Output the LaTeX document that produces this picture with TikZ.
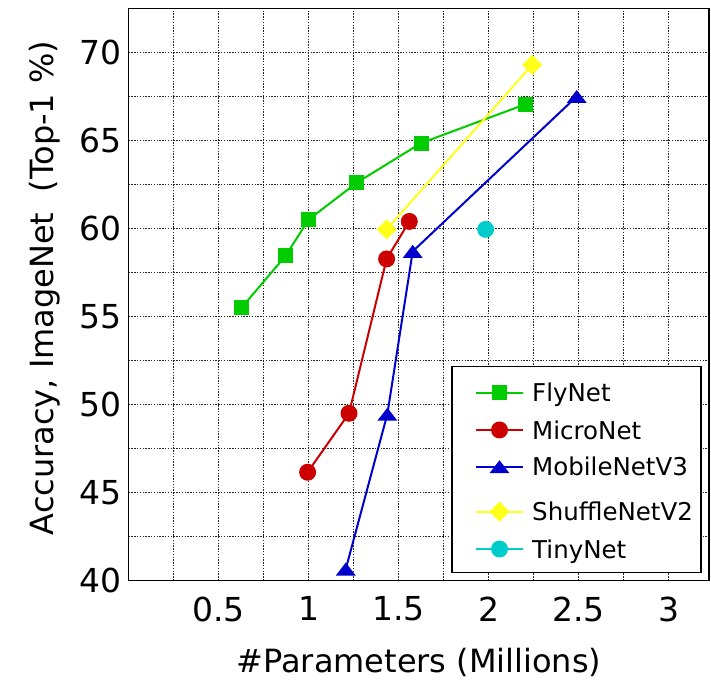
\documentclass[tikz,border=0pt]{standalone}
\usepackage{fontspec}
\setmainfont{DejaVu Sans}
\usetikzlibrary{shapes.geometric}

\definecolor{flyc}{HTML}{00CC00}
\definecolor{microc}{HTML}{CC0000}
\definecolor{mobilec}{HTML}{0000CC}
\definecolor{shufflec}{HTML}{FFFF1A}
\definecolor{tinyc}{HTML}{00CCCC}

\tikzset{
  gridline/.style={black!85, line width=0.9pt, dash pattern=on 1.4pt off 1.4pt},
  frame/.style={black, line width=1.4pt},
  series/.style={line width=2pt, line join=round},
  sqmark/.style={rectangle, fill=#1, minimum size=15pt, inner sep=0pt, outer sep=0pt},
  dotmark/.style={circle, fill=#1, minimum size=17pt, inner sep=0pt, outer sep=0pt},
  dmdmark/.style={diamond, fill=#1, minimum width=20pt, minimum height=20pt, aspect=1, inner sep=0pt, outer sep=0pt},
  ticklab/.style={inner sep=0pt, font=\fontsize{33}{36}\selectfont},
  axlab/.style={inner sep=0pt, font=\fontsize{32}{36}\selectfont},
  leglab/.style={inner sep=0pt, anchor=base west, font=\fontsize{24.5}{28}\selectfont},
  legbox/.style={draw=black, fill=white, line width=1.4pt}
}

% triangle marker, 20pt wide and 13pt tall, centred on a coordinate
\newcommand{\trimark}[2]{\fill[#1] (#2) ++(-10pt,-6.5pt) -- ++(20pt,0pt) -- ++(-10pt,13pt) -- cycle;}

\begin{document}
\begin{tikzpicture}[x=1pt,y=1pt]
\useasboundingbox (0,0) rectangle (711,682);

% data coordinates: x in millions of parameters, y in top-1 accuracy
\begin{scope}[shift={(128.5pt,-602.5pt)}, x=180pt, y=17.6pt]

  % grid
  \foreach \gx in {0.25,0.5,...,3.01}
    \draw[gridline] (\gx,40) -- (\gx,72.5);
  \foreach \gy in {42.5,45,...,70.1}
    \draw[gridline] (0,\gy) -- (3.225,\gy);

  % tick labels
  \foreach \gy in {40,45,...,70}
    \node[ticklab, anchor=east] (ylab\gy) at (-0.04,\gy) {\gy};
  \foreach \gx/\gt in {0.5/0.5,1/1,1.5/1.5,2/2,2.5/2.5,3/3}
    \node[ticklab, anchor=north] (xlab\gt) at (\gx,39.1) {\gt};

  % data points
  \coordinate (fly1) at (0.628,55.5);
  \coordinate (fly2) at (0.873,58.45);
  \coordinate (fly3) at (1.0,60.5);
  \coordinate (fly4) at (1.268,62.6);
  \coordinate (fly5) at (1.625,64.85);
  \coordinate (fly6) at (2.208,67.07);

  \coordinate (mic1) at (0.995,46.15);
  \coordinate (mic2) at (1.225,49.5);
  \coordinate (mic3) at (1.434,58.27);
  \coordinate (mic4) at (1.56,60.4);

  \coordinate (mob1) at (1.207,40.65);
  \coordinate (mob2) at (1.438,49.45);
  \coordinate (mob3) at (1.579,58.7);
  \coordinate (mob4) at (2.49,67.5);

  \coordinate (shu1) at (1.434,59.95);
  \coordinate (shu2) at (2.243,69.3);

  \coordinate (tin1) at (1.984,59.95);

  % FlyNet
  \draw[series, flyc] (fly1) -- (fly2) -- (fly3) -- (fly4) -- (fly5) -- (fly6);
  \foreach \i in {1,...,6}
    \node[sqmark=flyc] (flym\i) at (fly\i) {};

  % MicroNet
  \draw[series, microc] (mic1) -- (mic2) -- (mic3) -- (mic4);
  \foreach \i in {1,...,4}
    \node[dotmark=microc] (micm\i) at (mic\i) {};

  % MobileNetV3
  \draw[series, mobilec] (mob1) -- (mob2) -- (mob3) -- (mob4);
  \foreach \i in {1,...,4}
    {\trimark{mobilec}{mob\i}}

  % ShuffleNetV2
  \draw[series, shufflec] (shu1) -- (shu2);
  \foreach \i in {1,2}
    \node[dmdmark=shufflec] (shum\i) at (shu\i) {};

  % TinyNet
  \node[dotmark=tinyc] (tinm1) at (tin1) {};

  % axes frame
  \draw[frame] (0,40) rectangle (3.225,72.5);
\end{scope}

% axis titles
\node[axlab, anchor=base] (xtitle) at (419,10) {\#Parameters (Millions)};
\node[axlab, anchor=base, rotate=90] (ytitle) at (53,394) {Accuracy, ImageNet\ \ (Top-1 \%)};

% legend
\draw[legbox] (452,109.7) rectangle (701,315.3);

\coordinate (la1) at (476,289.3);  \coordinate (lb1) at (523,289.3);
\coordinate (la2) at (476,252.0);  \coordinate (lb2) at (523,252.0);
\coordinate (la3) at (476,215.3);  \coordinate (lb3) at (523,215.3);
\coordinate (la4) at (476,170.3);  \coordinate (lb4) at (523,170.3);
\coordinate (la5) at (476,133.0);  \coordinate (lb5) at (523,133.0);

\draw[series, flyc] (la1) -- (lb1);
\node[sqmark=flyc] (legm1) at (499.5,289.3) {};
\draw[series, microc] (la2) -- (lb2);
\node[dotmark=microc] (legm2) at (499.5,252.0) {};
\draw[series, mobilec] (la3) -- (lb3);
\coordinate (legm3) at (499.5,215.3);
\trimark{mobilec}{legm3}
\draw[series, shufflec] (la4) -- (lb4);
\node[dmdmark=shufflec] (legm4) at (499.5,170.3) {};
\draw[series, tinyc] (la5) -- (lb5);
\node[dotmark=tinyc] (legm5) at (499.5,133.0) {};

\node[leglab] (legt1) at (532,280.0) {FlyNet};
\node[leglab] (legt2) at (532,242.7) {MicroNet};
\node[leglab] (legt3) at (532,206.0) {MobileNetV3};
\node[leglab] (legt4) at (532,161.0) {ShuffleNetV2};
\node[leglab] (legt5) at (532,123.7) {TinyNet};

\end{tikzpicture}
\end{document}
